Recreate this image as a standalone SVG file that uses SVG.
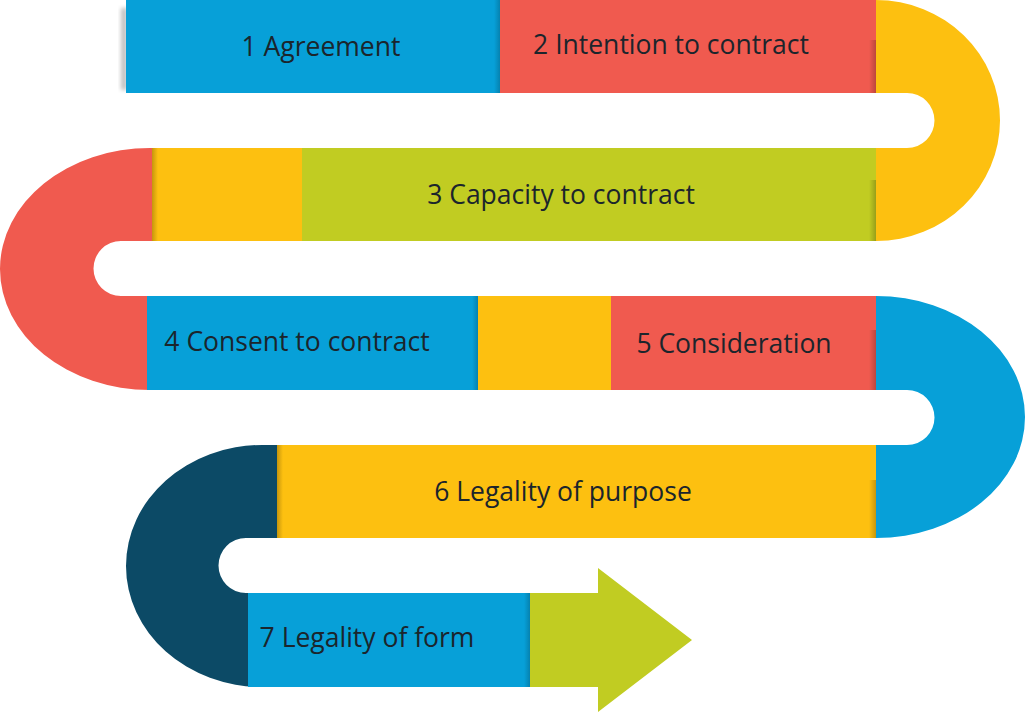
<svg xmlns="http://www.w3.org/2000/svg" width="1027" height="717" viewBox="0 0 1027 717">
  <style>
    .blue{fill:#07a0d8}
    .red{fill:#f05a4f}
    .yellow{fill:#fdc010}
    .green{fill:#c1cc22}
    .navy{fill:#0c4a66}
    .lbl{font-family:"Open Sans",Lato,"Liberation Sans",sans-serif;font-size:26.5px;fill:#1b252c}
  </style>
  <defs>
    <linearGradient id="shR" x1="0" y1="0" x2="1" y2="0">
      <stop offset="0" stop-color="#000" stop-opacity="0"/>
      <stop offset="1" stop-color="#000" stop-opacity="0.22"/>
    </linearGradient>
    <linearGradient id="shL" x1="0" y1="0" x2="1" y2="0">
      <stop offset="0" stop-color="#000" stop-opacity="0.22"/>
      <stop offset="1" stop-color="#000" stop-opacity="0"/>
    </linearGradient>
    <filter id="blur" x="-50%" y="-10%" width="200%" height="120%">
      <feGaussianBlur stdDeviation="2"/>
    </filter>
  </defs>
  <rect width="1027" height="717" fill="#fff"/>

  <g id="turns">
    <path id="turn-1" class="yellow" d="M876,0 A124,120.5 0 0 1 876,241 L876,148 L907,148 A27.5,27.5 0 0 0 907,93 L876,93 Z"/>
    <path id="turn-2" class="red" d="M152,148 L150,148 A150,121 0 0 0 150,390 L150,296 L121,296 A27.5,27.5 0 0 1 121,241 L152,241 Z"/>
    <path id="turn-3" class="blue" d="M876,296 A149,121 0 0 1 876,538 L876,445 L907,445 A27.5,27.5 0 0 0 907,390 L876,390 Z"/>
    <path id="turn-4" class="navy" d="M277,445 L262,445 A136,121 0 0 0 262,687 L262,593 L246,593 A27.5,27.5 0 0 1 246,538 L277,538 Z"/>
  </g>

  <rect x="121" y="8" width="6" height="82" fill="#000" opacity="0.25" filter="url(#blur)"/>

  <g id="node-1">
    <rect class="blue" x="126" y="0" width="375" height="93"/>
    <rect x="494" y="0" width="7" height="93" fill="url(#shR)"/>
    <text class="lbl" x="321" y="56" text-anchor="middle">1 Agreement</text>
  </g>
  <g id="node-2">
    <rect class="red" x="500" y="0" width="376" height="93"/>
    <rect x="869" y="40" width="7" height="53" fill="url(#shR)"/>
    <text class="lbl" x="671" y="54" text-anchor="middle">2 Intention to contract</text>
  </g>
  <g id="node-3">
    <rect class="yellow" x="152" y="148" width="151" height="93"/>
    <rect class="green" x="302" y="148" width="574" height="93"/>
    <rect x="152" y="148" width="6" height="93" fill="url(#shL)"/>
    <rect x="869" y="180" width="7" height="61" fill="url(#shR)"/>
    <text class="lbl" x="561" y="204" text-anchor="middle">3 Capacity to contract</text>
  </g>
  <g id="node-4">
    <rect class="blue" x="147" y="296" width="332" height="94"/>
    <rect x="472" y="296" width="7" height="94" fill="url(#shR)"/>
    <text class="lbl" x="297" y="351" text-anchor="middle">4 Consent to contract</text>
  </g>
  <g id="node-5">
    <rect class="yellow" x="478" y="296" width="134" height="94"/>
    <rect class="red" x="611" y="296" width="265" height="94"/>
    <rect x="869" y="330" width="7" height="60" fill="url(#shR)"/>
    <text class="lbl" x="734" y="353" text-anchor="middle">5 Consideration</text>
  </g>
  <g id="node-6">
    <rect class="yellow" x="277" y="445" width="599" height="93"/>
    <rect x="277" y="445" width="6" height="93" fill="url(#shL)"/>
    <rect x="869" y="480" width="7" height="58" fill="url(#shR)"/>
    <text class="lbl" x="563" y="501" text-anchor="middle">6 Legality of purpose</text>
  </g>
  <g id="node-7">
    <rect class="blue" x="248" y="593" width="283" height="94"/>
    <rect x="524" y="593" width="7" height="94" fill="url(#shR)"/>
    <text class="lbl" x="367" y="647" text-anchor="middle">7 Legality of form</text>
  </g>

  <g id="connectors">
    <path id="end-arrow" class="green" d="M530,593 L598,593 L598,568 L692,640 L598,712 L598,687 L530,687 Z"/>
  </g>
</svg>
